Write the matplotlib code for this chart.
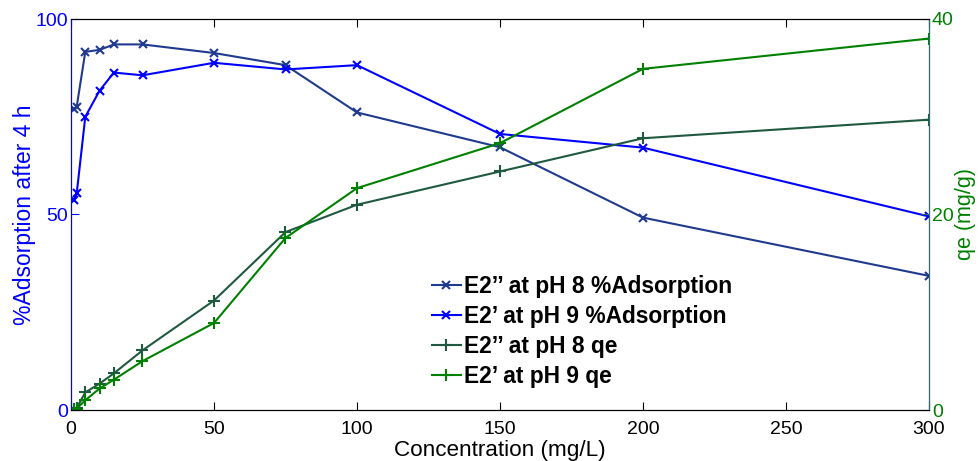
import matplotlib
matplotlib.use("Agg")
import matplotlib.pyplot as plt

plt.rcParams['font.family'] = ['Liberation Sans', 'DejaVu Sans']

# values
conc = [1, 2, 5, 10, 15, 25, 50, 75, 100, 150, 200, 300]
ads_ph8 = [76.9, 77.6, 91.6, 92.1, 93.5, 93.5, 91.3, 88.2, 76.1, 67.2, 49.2, 34.3]
ads_ph9 = [53.7, 55.4, 75.0, 81.7, 86.3, 85.6, 88.8, 87.1, 88.2, 70.6, 67.1, 49.5]
qe_ph8 = [0.1, 0.2, 1.8, 2.7, 3.75, 6.1, 11.2, 18.2, 21.0, 24.4, 27.8, 29.7]
qe_ph9 = [0.05, 0.15, 1.0, 2.2, 3.1, 5.0, 8.9, 17.6, 22.7, 27.3, 34.9, 38.0]
xticks = [0, 50, 100, 150, 200, 250, 300]
left_ticks = [0, 50, 100]
right_ticks = [0, 20, 40]

navy = "#203a8f"
blue = "#0000ff"
dkgreen = "#1f5a40"
green = "#008000"
spine_r = "#2f6a6e"

fig = plt.figure(figsize=(9.79, 4.61), dpi=100)
ax1 = fig.add_axes([71/979, 1-410/461, 858/979, 391/461])
ax2 = ax1.twinx()

l1, = ax1.plot(conc, ads_ph8, color=navy, marker='x', ms=6, mew=1.5, lw=1.5,
               label="E2\u2019\u2019 at pH 8 %Adsorption")
l2, = ax1.plot(conc, ads_ph9, color=blue, marker='x', ms=6, mew=1.5, lw=1.5,
               label="E2\u2019 at pH 9 %Adsorption")
l3, = ax2.plot(conc, qe_ph8, color=dkgreen, marker='+', ms=8, mew=1.5, lw=1.5,
               label="E2\u2019\u2019 at pH 8 qe")
l4, = ax2.plot(conc, qe_ph9, color=green, marker='+', ms=8, mew=1.5, lw=1.5,
               label="E2\u2019 at pH 9 qe")

ax1.set_xlim(0, 300)
ax1.set_ylim(0, 100)
ax2.set_ylim(0, 40)
ax1.set_xticks(xticks)
ax1.set_yticks(left_ticks)
ax2.set_yticks(right_ticks)

ax1.tick_params(axis='x', direction='in', top=True, labelsize=14, length=6, pad=8)
ax1.tick_params(axis='y', direction='in', colors=blue, labelsize=14, length=6, pad=2)
ax2.tick_params(axis='y', direction='in', colors=spine_r, labelcolor=green,
                labelsize=14, length=6, pad=2)

ax1.spines['left'].set_color(blue)
ax2.spines['left'].set_color(blue)
ax2.spines['right'].set_color(spine_r)
for ax in (ax1, ax2):
    ax.spines['top'].set_color('black')
    ax.spines['bottom'].set_color('black')

ax1.set_xlabel("Concentration (mg/L)", fontsize=16.2, labelpad=1)
ax1.set_ylabel("%Adsorption after 4 h", fontsize=16.5, color=blue, labelpad=0)
ax2.set_ylabel("qe (mg/g)", fontsize=15.5, color=green, labelpad=1)

ax2.legend(handles=[l1, l2, l3, l4], loc='upper left', bbox_to_anchor=(0.421, 0.345),
           frameon=False, prop={'weight': 'bold', 'size': 16.4}, handlelength=1.25,
           handletextpad=0.15, labelspacing=0.3, borderaxespad=0, borderpad=0)

plt.savefig("out.png", dpi=100)
